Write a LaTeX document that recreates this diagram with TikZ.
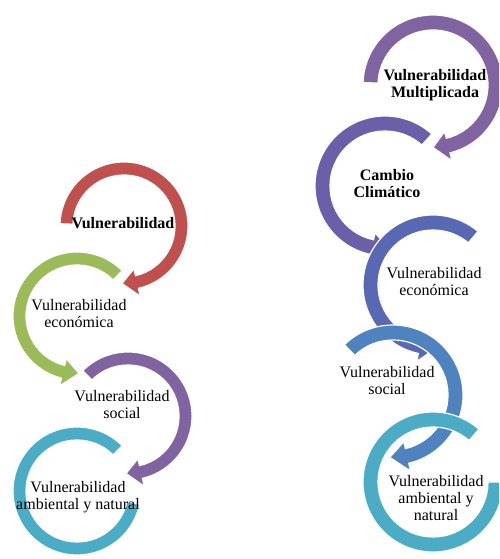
\documentclass[tikz,border=0pt]{standalone}
\usepackage{fontspec}
\setmainfont{Liberation Serif}
\usepackage{tikz}

% thick ring arc with a head: colour, centre, inner r, outer r, start, head base, tip
\newcommand{\ringarrow}[7]{%
  \begin{scope}[shift={#2}]
    \filldraw[fill=#1,draw=white,line width=1.2pt]
      (#5:#4) arc[start angle=#5,end angle=#6,radius=#4]
      -- (#6:{#4+8}) -- (#7:{(#3+#4)/2}) -- (#6:{#3-7}) -- (#6:#3)
      arc[start angle=#6,end angle=#5,radius=#3] -- cycle;
  \end{scope}}
% same ring, no head: colour, centre, inner r, outer r, start, end
\newcommand{\ringband}[6]{%
  \begin{scope}[shift={#2}]
    \filldraw[fill=#1,draw=white,line width=1.2pt]
      (#5:#4) arc[start angle=#5,end angle=#6,radius=#4]
      -- (#6:#3) arc[start angle=#6,end angle=#5,radius=#3] -- cycle;
  \end{scope}}

\tikzset{ringlabel/.style={align=center,inner sep=0pt,font=\fontsize{16}{17}\selectfont}}

\begin{document}
\begin{tikzpicture}[x=1pt,y=1pt]
\definecolor{ringRed}{HTML}{C0504D}
\definecolor{ringGreen}{HTML}{9BBB59}
\definecolor{ringPurple}{HTML}{8064A2}
\definecolor{ringAqua}{HTML}{4BACC6}
\definecolor{ringIndigo}{HTML}{6A5FA8}
\definecolor{ringBlue}{HTML}{5868B3}
\definecolor{ringSteel}{HTML}{4F83BF}
\useasboundingbox (0,0) rectangle (499,559);
\clip (0,0) rectangle (499,559);
% left chain
\ringarrow{ringRed}{(124,333)}{51}{64}{178}{-77}{-92}
\ringarrow{ringGreen}{(77,243)}{51}{64}{45}{256}{272}
\ringarrow{ringPurple}{(128,143)}{51}{64}{135}{-77}{-92}
\ringband{ringAqua}{(77,68)}{51}{64}{45}{348}
\node[ringlabel,font=\fontsize{16}{17}\selectfont\bfseries] (vuln) at (123,336) {Vulnerabilidad};
\node[ringlabel] (econL) at (79,245) {Vulnerabilidad\\económica};
\node[ringlabel] (socL) at (122,154) {Vulnerabilidad\\social};
\node[ringlabel] (ambL) at (78,62) {Vulnerabilidad\\ambiental y natural};
% right chain
\ringarrow{ringPurple}{(433,474)}{55}{70}{178}{-76}{-90}
\ringarrow{ringIndigo}{(385,373)}{55}{70}{48}{258}{274}
\ringarrow{ringBlue}{(433,274)}{55}{70}{50}{258}{274}
\ringarrow{ringSteel}{(393,164)}{55}{70}{134}{-77}{-93}
\ringband{ringAqua}{(433,77)}{55}{70}{49}{360}
\node[ringlabel,font=\fontsize{16}{17}\selectfont\bfseries] (multi) at (435,474) {Vulnerabilidad\\Multiplicada};
\node[ringlabel,font=\fontsize{16}{17}\selectfont\bfseries] (clima) at (387,375) {Cambio\\Climático};
\node[ringlabel] (econR) at (434,277) {Vulnerabilidad\\económica};
\node[ringlabel] (socR) at (387,178) {Vulnerabilidad\\social};
\node[ringlabel] (ambR) at (436,61) {Vulnerabilidad\\ambiental y\\natural};
\end{tikzpicture}
\end{document}
